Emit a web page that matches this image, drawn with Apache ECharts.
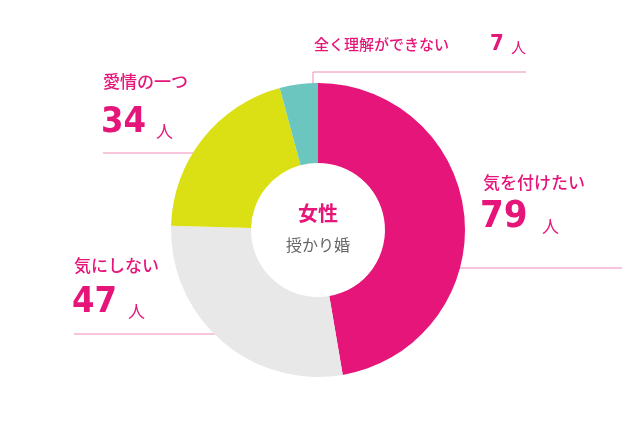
<!DOCTYPE html>
<html><head><meta charset="utf-8">
<script src="https://cdn.jsdelivr.net/npm/echarts@6/dist/echarts.min.js"></script>
<style>body{margin:0;background:#fff}#c{width:636px;height:426px}</style>
</head><body><div id="c"></div>
<script>
const categories = ['気を付けたい', '気にしない', '愛情の一つ', '全く理解ができない'];
const counts = [79, 47, 34, 7];
const colors = ['#e5157a', '#e8e8e8', '#dbe014', '#6cc6c0'];
const unit = '人';

const PINK = '#e5157a', LINE = '#f28ab8';
const FONT = '"Noto Sans CJK JP", sans-serif';
const NUMFONT = '"DejaVu Sans Condensed", "DejaVu Sans", sans-serif';

// label layouts: [name pos, number pos, polyline]
const layouts = [
  { name: [483, 186, 17], num: [480, 222, 38], unitX: 542, line: [[622, 268], [423, 268], [423, 284]] },
  { name: [74, 269, 17], num: [72, 307, 36], unitX: 128, line: [[74, 334], [247, 334], [247, 350]] },
  { name: [103, 85, 17], num: [101, 127, 36], unitX: 156, line: [[103, 153], [247, 153], [247, 169]] },
  { name: [314, 47, 15], num: [490, 47, 22], unitX: 511, line: [[313, 96], [313, 72], [526, 72]] }
];

const graphic = [];
layouts.forEach((l, i) => {
  graphic.push({ type: 'text', left: l.name[0], top: l.name[1] - l.name[2] * 0.7,
    style: { text: categories[i], fill: PINK, font: '500 ' + l.name[2] + 'px ' + FONT } });
  graphic.push({ type: 'text', left: l.num[0], top: l.num[1] - l.num[2] * 0.62,
    style: { text: String(counts[i]), fill: PINK, font: 'bold ' + l.num[2] + 'px ' + NUMFONT } });
  const us = i === 3 ? 15 : 17;
  graphic.push({ type: 'text', left: l.unitX, top: l.num[1] - us * 0.45 + (i === 3 ? 0 : 4),
    style: { text: unit, fill: PINK, font: us + 'px ' + FONT } });
  graphic.push({ type: 'polyline', shape: { points: l.line }, style: { stroke: LINE, lineWidth: 1, fill: null } });
});
graphic.push({ type: 'text', x: 318, y: 213, style: { text: '女性', fill: PINK, font: 'bold 20px ' + FONT, align: 'center', verticalAlign: 'middle' } });
graphic.push({ type: 'text', x: 318, y: 245, style: { text: '授かり婚', fill: '#666', font: '16px ' + FONT, align: 'center', verticalAlign: 'middle' } });

const chart = echarts.init(document.getElementById('c'));
chart.setOption({
  animation: false,
  color: colors,
  series: [{
    type: 'pie',
    center: [318, 230],
    radius: [67, 147],
    startAngle: 90,
    clockwise: true,
    label: { show: false },
    labelLine: { show: false },
    itemStyle: { borderWidth: 0 },
    data: categories.map((c, i) => ({ name: c, value: counts[i] }))
  }],
  graphic: graphic
});
</script></body></html>
